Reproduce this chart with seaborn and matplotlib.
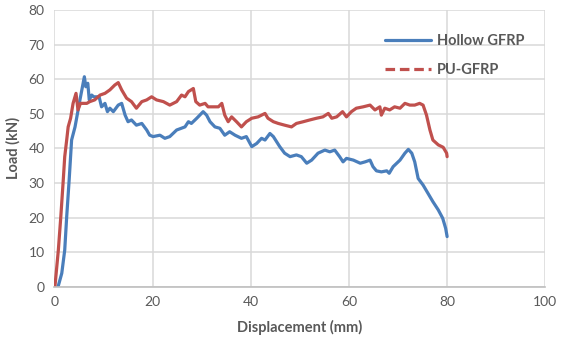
import matplotlib
matplotlib.use('Agg')
import matplotlib.pyplot as plt
from matplotlib.lines import Line2D
import numpy as np
import pandas as pd
import seaborn as sns

# Hollow GFRP (displacement mm, load kN)
hollow_x = [0.7, 0.8, 1.5, 2.1, 2.5, 3.0, 3.5, 4.2, 5.2, 6.1, 6.4, 6.8, 7.1, 7.6, 8.0, 9.1,
            9.6, 10.3, 10.8, 11.3, 12.0, 13.0, 13.7, 14.4, 15.0, 15.7, 16.7, 17.8, 18.8, 19.4,
            20.1, 21.5, 22.5, 23.5, 24.9, 26.6, 27.3, 27.9, 29.0, 30.3, 31.0, 31.7, 32.7, 33.7,
            34.7, 35.7, 36.8, 38.1, 39.1, 40.2, 41.2, 42.2, 42.9, 43.9, 44.6, 45.9, 46.9, 48.0,
            49.3, 50.3, 51.4, 52.4, 53.7, 55.1, 56.1, 57.1, 58.1, 58.8, 59.5, 60.9, 62.3, 63.3,
            64.3, 64.9, 65.6, 66.6, 67.7, 68.2, 69.0, 70.4, 71.4, 72.1, 72.8, 73.4, 74.1, 75.1,
            76.1, 77.1, 78.2, 79.1, 79.7, 80.0]
hollow_y = [0.0, 0.3, 3.9, 10.6, 20.2, 30.8, 42.4, 46.2, 54.0, 60.7, 57.8, 58.8, 54.0, 55.4, 54.9, 54.9,
            52.0, 53.0, 50.6, 51.6, 50.6, 52.5, 53.0, 49.6, 47.7, 48.2, 46.7, 47.2, 45.3, 43.8,
            43.4, 43.8, 42.9, 43.4, 45.3, 46.2, 47.7, 47.2, 48.7, 50.6, 49.6, 47.7, 46.2, 45.8,
            43.8, 44.8, 43.8, 42.9, 43.4, 40.5, 41.4, 42.9, 42.4, 44.3, 43.4, 40.5, 38.6, 37.6,
            38.1, 37.6, 35.7, 36.6, 38.6, 39.5, 39.0, 39.5, 37.6, 36.1, 37.1, 36.6, 35.7, 36.1,
            36.6, 34.7, 33.5, 33.2, 33.5, 32.8, 34.7, 36.6, 38.6, 39.7, 38.6, 36.1, 31.3, 29.4,
            27.0, 24.6, 22.2, 19.8, 16.9, 14.5]

# PU-GFRP
pu_x = [0.1, 0.8, 1.3, 1.8, 2.1, 2.5, 2.8, 3.3, 3.8, 4.4, 4.8, 5.3, 6.6, 7.2, 8.2, 9.3, 10.3,
        11.3, 12.3, 13.0, 13.7, 14.7, 15.7, 16.7, 17.8, 18.8, 19.8, 20.8, 22.2, 23.5, 24.9,
        25.9, 26.6, 27.3, 28.3, 28.8, 29.6, 30.7, 31.3, 32.3, 33.4, 34.1, 34.7, 35.4, 36.1,
        37.1, 38.1, 39.1, 40.2, 41.5, 42.9, 43.5, 44.6, 45.6, 46.9, 48.3, 49.3, 50.7, 52.0,
        53.4, 54.7, 55.8, 56.5, 57.5, 58.7, 59.5, 60.5, 61.5, 62.9, 64.3, 65.3, 66.3, 66.6,
        67.3, 68.3, 69.3, 70.4, 71.4, 72.4, 73.4, 74.4, 75.1, 75.8, 76.5, 77.1, 78.2, 79.2,
        79.9, 80.0]
pu_y = [0.0, 10.6, 20.2, 30.8, 37.6, 42.4, 46.2, 48.7, 53.0, 55.9, 51.1, 53.0, 53.0, 53.5, 54.0,
        55.4, 55.9, 56.9, 58.3, 59.0, 56.9, 54.5, 53.5, 51.6, 53.5, 54.0, 54.9, 54.0, 53.5,
        52.5, 53.5, 55.4, 54.9, 56.4, 57.3, 53.5, 52.5, 53.0, 52.0, 52.0, 52.0, 53.0, 49.6,
        47.7, 49.1, 47.7, 46.2, 47.7, 48.7, 49.1, 50.1, 48.7, 47.7, 47.2, 46.7, 46.2, 47.2,
        47.7, 48.2, 48.7, 49.1, 50.1, 48.7, 49.1, 50.6, 49.1, 50.6, 51.6, 52.0, 52.5, 51.1,
        52.0, 49.6, 51.6, 51.1, 52.0, 51.6, 53.0, 52.5, 52.5, 53.0, 52.5, 49.6, 45.3, 42.4,
        41.0, 40.3, 38.6, 37.6]

series_names = ['Hollow GFRP', 'PU-GFRP']
colors = ['#4A7EBB', '#C0504D']

df = pd.concat([
    pd.DataFrame({'x': hollow_x, 'y': hollow_y, 'series': series_names[0]}),
    pd.DataFrame({'x': pu_x, 'y': pu_y, 'series': series_names[1]}),
], ignore_index=True)

sns.set_style('white')
plt.rcParams['font.family'] = ['Lato', 'DejaVu Sans']

fig = plt.figure(figsize=(5.61, 3.43), dpi=100)
ax = fig.add_axes([0.097, 0.164, 0.875, 0.807])

sns.lineplot(data=df, x='x', y='y', hue='series', palette=colors, sort=False,
             estimator=None, linewidth=2.3, legend=False, ax=ax)

ax.set_xlim(0, 100)
ax.set_ylim(0, 80)
ax.set_xticks(np.arange(0, 101, 20))
ax.set_yticks(np.arange(0, 81, 10))
ax.grid(True, color='#D9D9D9', linewidth=1.1)
ax.set_axisbelow(True)
for side in ['top', 'right', 'left']:
    ax.spines[side].set_visible(False)
ax.spines['bottom'].set_color('#BFBFBF')
ax.spines['bottom'].set_linewidth(1.2)
ax.tick_params(axis='both', length=0, labelsize=10, labelcolor='#595959', pad=7)

ax.set_xlabel('Displacement (mm)', fontsize=10.5, fontweight='bold', color='#595959', labelpad=8)
ax.set_ylabel('Load (kN)', fontsize=10.5, fontweight='bold', color='#595959', labelpad=6)

handles = [Line2D([0], [0], color=colors[0], lw=2.3),
           Line2D([0], [0], color=colors[1], lw=2.3, linestyle=(0, (3, 1.5)))]
leg = ax.legend(handles, series_names, loc='upper right', bbox_to_anchor=(0.985, 0.96),
                frameon=False, handlelength=3.2, labelspacing=1.0, handletextpad=0.4,
                prop={'size': 10.5, 'weight': 'bold'})
for t in leg.get_texts():
    t.set_color('#595959')

fig.savefig('out.png', dpi=100)
